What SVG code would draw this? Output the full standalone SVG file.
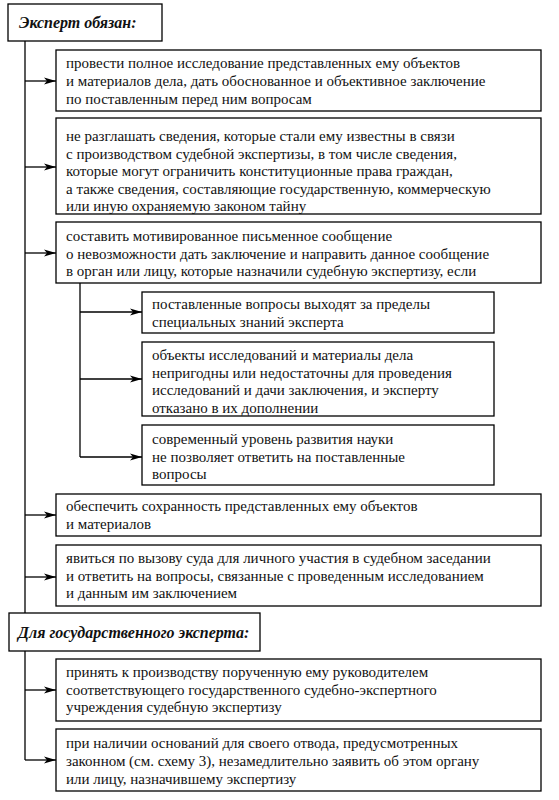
<svg xmlns="http://www.w3.org/2000/svg" width="559" height="800" viewBox="0 0 559 800">
<style>
.box{fill:#fff;stroke:#000;stroke-width:1.3}
.t{font-size:15px;fill:#111}
.h{font-size:16px;font-weight:bold;font-style:italic;fill:#111}
.ln{fill:none;stroke:#000;stroke-width:1.3}
</style>
<defs>
<marker id="ar" viewBox="0 0 12 8" refX="12" refY="4" markerWidth="12" markerHeight="8" markerUnits="userSpaceOnUse" orient="auto">
<path d="M0,0.5 L12,4 L0,7.5 L3,4 Z" fill="#000"/>
</marker>
</defs>
<rect width="559" height="800" fill="#fff"/>
<g id="connectors">
<path class="ln" d="M25,41 V613"/>
<path class="ln" d="M25,651 V760"/>
<path class="ln" d="M80,283 V457"/>
<path class="ln" d="M25,81 H56" marker-end="url(#ar)"/>
<path class="ln" d="M25,167 H56" marker-end="url(#ar)"/>
<path class="ln" d="M25,253 H56" marker-end="url(#ar)"/>
<path class="ln" d="M80,312 H142" marker-end="url(#ar)"/>
<path class="ln" d="M80,379 H142" marker-end="url(#ar)"/>
<path class="ln" d="M80,457 H142" marker-end="url(#ar)"/>
<path class="ln" d="M25,515 H56" marker-end="url(#ar)"/>
<path class="ln" d="M25,577 H56" marker-end="url(#ar)"/>
<path class="ln" d="M25,690 H56" marker-end="url(#ar)"/>
<path class="ln" d="M25,760 H56" marker-end="url(#ar)"/>
</g>
<g font-family="Liberation Serif, serif">
<g id="header1">
<rect class="box" x="8" y="4" width="154" height="37"/>
<text class="h" x="19" y="28">Эксперт обязан:</text>
</g>
<g id="box1">
<rect class="box" x="56" y="50" width="485" height="61"/>
<text class="t" x="66" y="68">провести полное исследование представленных ему объектов</text>
<text class="t" x="66" y="86">и материалов дела, дать обоснованное и объективное заключение</text>
<text class="t" x="66" y="104">по поставленным перед ним вопросам</text>
</g>
<g id="box2">
<rect class="box" x="56" y="118" width="485" height="96"/>
<text class="t" x="66" y="141">не разглашать сведения, которые стали ему известны в связи</text>
<text class="t" x="66" y="158.5">с производством судебной экспертизы, в том числе сведения,</text>
<text class="t" x="66" y="176">которые могут ограничить конституционные права граждан,</text>
<text class="t" x="66" y="193.5">а также сведения, составляющие государственную, коммерческую</text>
<text class="t" x="66" y="211">или иную охраняемую законом тайну</text>
</g>
<g id="box3">
<rect class="box" x="56" y="222" width="485" height="61"/>
<text class="t" x="66" y="241">составить мотивированное письменное сообщение</text>
<text class="t" x="66" y="258.5">о невозможности дать заключение и направить данное сообщение</text>
<text class="t" x="66" y="276">в орган или лицу, которые назначили судебную экспертизу, если</text>
</g>
<g id="sub1">
<rect class="box" x="142" y="292" width="352" height="41"/>
<text class="t" x="152" y="309">поставленные вопросы выходят за пределы</text>
<text class="t" x="152" y="326.5">специальных знаний эксперта</text>
</g>
<g id="sub2">
<rect class="box" x="142" y="342" width="352" height="74"/>
<text class="t" x="152" y="360">объекты исследований и материалы дела</text>
<text class="t" x="152" y="377.5">непригодны или недостаточны для проведения</text>
<text class="t" x="152" y="395">исследований и дачи заключения, и эксперту</text>
<text class="t" x="152" y="412.5">отказано в их дополнении</text>
</g>
<g id="sub3">
<rect class="box" x="142" y="425" width="352" height="60"/>
<text class="t" x="152" y="444">современный уровень развития науки</text>
<text class="t" x="152" y="461.5">не позволяет ответить на поставленные</text>
<text class="t" x="152" y="479">вопросы</text>
</g>
<g id="box4">
<rect class="box" x="56" y="494" width="485" height="42"/>
<text class="t" x="66" y="511">обеспечить сохранность представленных ему объектов</text>
<text class="t" x="66" y="528.5">и материалов</text>
</g>
<g id="box5">
<rect class="box" x="56" y="545" width="485" height="61"/>
<text class="t" x="66" y="563">явиться по вызову суда для личного участия в судебном заседании</text>
<text class="t" x="66" y="580.5">и ответить на вопросы, связанные с проведенным исследованием</text>
<text class="t" x="66" y="598">и данным им заключением</text>
</g>
<g id="header2">
<rect class="box" x="9" y="613" width="251" height="38"/>
<text class="h" x="18" y="638">Для государственного эксперта:</text>
</g>
<g id="box6">
<rect class="box" x="56" y="659" width="485" height="62"/>
<text class="t" x="66" y="677">принять к производству порученную ему руководителем</text>
<text class="t" x="66" y="694.5">соответствующего государственного судебно-экспертного</text>
<text class="t" x="66" y="712">учреждения судебную экспертизу</text>
</g>
<g id="box7">
<rect class="box" x="56" y="729" width="485" height="62"/>
<text class="t" x="66" y="748">при наличии оснований для своего отвода, предусмотренных</text>
<text class="t" x="66" y="766">законном (см. схему 3), незамедлительно заявить об этом органу</text>
<text class="t" x="66" y="784">или лицу, назначившему экспертизу</text>
</g>
</g>
</svg>
